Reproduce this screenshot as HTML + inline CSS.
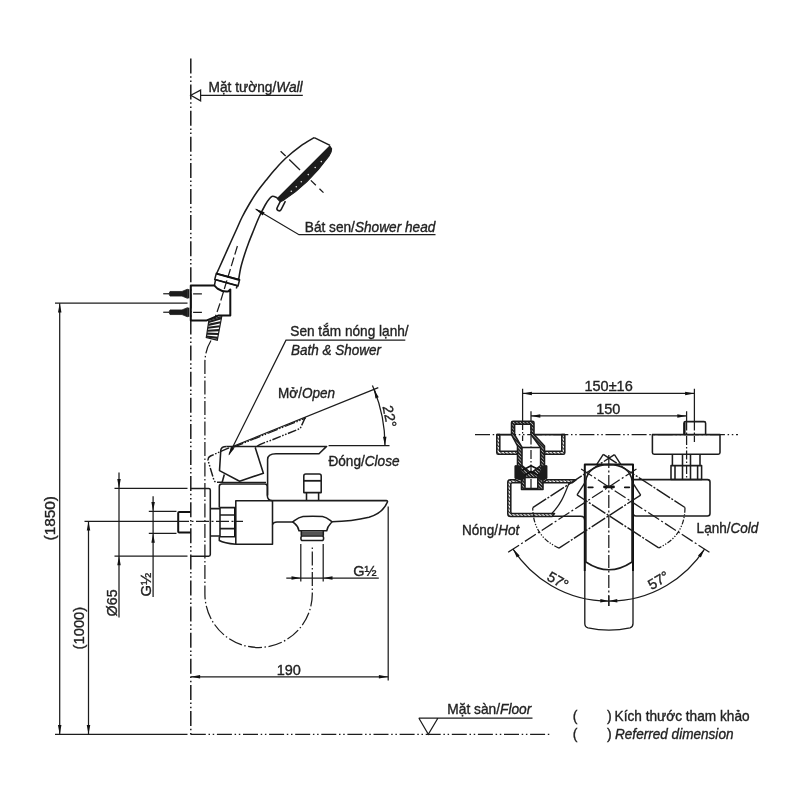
<!DOCTYPE html>
<html lang="vi">
<head>
<meta charset="utf-8">
<title>Sen tắm nóng lạnh / Bath &amp; Shower</title>
<style>
html,body{margin:0;padding:0;background:#fff}
body{width:800px;height:800px;overflow:hidden}
svg{display:block;filter:grayscale(1)}
text{font-family:"Liberation Sans",sans-serif;font-size:14.1px;fill:#222;stroke:#222;stroke-width:.35px}
.i{font-style:italic}
.d{font-size:14.5px}
.n{fill:none;stroke:#1c1c1c;stroke-width:1.25}
.k{fill:none;stroke:#1c1c1c;stroke-width:1.55;stroke-linejoin:round}
.kk{fill:none;stroke:#111;stroke-width:2;stroke-linejoin:round}
.ph{stroke-dasharray:15 2.7 1.5 2.7 1.5 2.7}
.ah{fill:#111;stroke:none}
</style>
</head>
<body>
<svg width="800" height="800" viewBox="0 0 800 800">
<defs>
<clipPath id="oc"><path clip-rule="evenodd" d="M0,0 H800 V800 H0 Z M584.8,464.6 H633 V571 H584.8 Z"/></clipPath>
<pattern id="h" width="2.6" height="2.6" patternUnits="userSpaceOnUse" patternTransform="rotate(-45)"><rect width="2.6" height="2.6" fill="#fff"/><rect width="1.1" height="2.6" fill="#333"/></pattern>
<pattern id="h2" width="2.4" height="2.4" patternUnits="userSpaceOnUse" patternTransform="rotate(-45)"><rect width="2.4" height="2.4" fill="#bbb"/><rect width="1.6" height="2.4" fill="#222"/></pattern>
</defs>
<rect width="800" height="800" fill="#fff"/>
<path class="n ph" style="stroke-width:1.5" d="M190.8,58.5 V734.4"/>
<path class="n ph" d="M190.8,734.4 H550"/>
<path class="n" d="M55,734.4 H187.5"/>
<path class="n" d="M190.8,95.3 L200.6,90.1 V100.9 Z M200.6,95.3 H302.8" fill="none"/>
<text x="208.6" y="91.6" textLength="94" lengthAdjust="spacingAndGlyphs">Mặt tường/<tspan class="i">Wall</tspan></text>
<path class="k" d="M314.25,137.60 C311.96,139.02 305.31,142.62 300.50,146.10 C295.69,149.58 289.73,154.52 285.40,158.50 C281.07,162.48 277.69,166.42 274.50,170.00 C271.31,173.58 269.23,176.25 266.25,180.00 C263.27,183.75 259.52,188.33 256.60,192.50 C253.68,196.67 251.20,200.83 248.75,205.00 C246.30,209.17 243.98,213.33 241.90,217.50 C239.82,221.67 238.13,225.83 236.25,230.00 C234.37,234.17 232.47,238.33 230.60,242.50 C228.72,246.67 226.87,250.83 225.00,255.00 C223.13,259.17 220.80,264.40 219.40,267.50 C218.00,270.60 217.07,272.58 216.60,273.60"/>
<path class="k" d="M277.50,198.00 C276.68,197.70 273.92,196.10 272.60,196.20 C271.28,196.30 270.83,197.13 269.60,198.60 C268.37,200.07 266.98,201.85 265.20,205.00 C263.42,208.15 260.81,213.33 258.90,217.50 C256.99,221.67 255.44,225.83 253.75,230.00 C252.06,234.17 250.31,238.33 248.75,242.50 C247.19,246.67 245.72,250.83 244.40,255.00 C243.08,259.17 241.77,263.38 240.80,267.50 C239.83,271.62 238.97,277.71 238.60,279.75"/>
<path class="k" d="M314.25,137.6 L330.05,145.4"/>
<path d="M329.8,146.2 L331.6,148.8 Q331.8,152 329,156 Q308,185 283,200.5 L280.3,201.8 L277.3,198.6 Z" fill="#1c1c1c" stroke="#1c1c1c" stroke-width="1.2" stroke-linejoin="round"/>
<circle cx="321.3" cy="161.6" r="0.8" fill="#e8e8e8"/>
<circle cx="315.2" cy="167.5" r="0.8" fill="#e8e8e8"/>
<circle cx="308.3" cy="174.6" r="0.8" fill="#e8e8e8"/>
<circle cx="301.3" cy="181.8" r="0.8" fill="#e8e8e8"/>
<circle cx="296.3" cy="186.8" r="0.8" fill="#e8e8e8"/>
<circle cx="291.3" cy="191.2" r="0.8" fill="#e8e8e8"/>
<path class="k" d="M280.2,201.6 L277.2,207.6 A2.1,2.1 0 0 0 281.1,209.6 L285.4,201.2"/>
<path class="n" style="stroke-width:1.3" stroke-dasharray="7 5 15 5 5 5 7 5" d="M280.6,151.2 L323.5,192.6"/>
<path class="n" stroke-dasharray="9 3" d="M237.4,246 L219.6,304.5 L215,318"/>
<path class="k" d="M216.3,273.4 L239.6,279.8 L238.0,286 L214.7,279.6 Z"/>
<path class="kk" d="M216.3,273.6 L239.6,280"/>
<path class="kk" style="stroke-width:1.5" d="M214.9,279.4 L238.1,285.8"/>
<path class="k" d="M215.6,279.4 L214.4,285.6 M237.4,285.3 L236.3,288.5"/>
<path class="kk" d="M190.8,285.6 H214.4 L217.5,288.6 Q223,292.3 228.5,291.3 L230.3,289.5 V315.6 H218.1 L206.25,320.6 H190.8 Z"/>
<path class="n" d="M193.1,293.75 H201.9 M193.1,312.25 H201.9"/>
<path d="M163.3,293.75 H169 L170,291.45 H182 L187.5,289.15 V298.35 L182,296.05 H170 L169,293.75 Z" fill="#1c1c1c" stroke="#1c1c1c" stroke-width="0.8"/>
<path class="k" d="M188.6,289.15 V298.35"/>
<path d="M163.3,312.25 H169 L170,309.95 H182 L187.5,307.65 V316.85 L182,314.55 H170 L169,312.25 Z" fill="#1c1c1c" stroke="#1c1c1c" stroke-width="0.8"/>
<path class="k" d="M188.6,307.65 V316.85"/>
<path class="n" d="M55,303.2 H187.5"/>
<path class="n" d="M59.7,303.2 V734.4"/>
<polygon class="ah" points="59.70,303.20 61.45,312.50 57.95,312.50"/>
<polygon class="ah" points="59.70,734.40 57.95,725.10 61.45,725.10"/>
<text transform="translate(54.5,540.5) rotate(-90)" class="d" textLength="44.5" lengthAdjust="spacingAndGlyphs">(1850)</text>
<path class="n" d="M84.5,521.3 H176"/>
<path class="n" d="M88.5,521.3 V734.4"/>
<polygon class="ah" points="88.50,521.30 90.25,530.60 86.75,530.60"/>
<polygon class="ah" points="88.50,734.40 86.75,725.10 90.25,725.10"/>
<text transform="translate(83.7,649.4) rotate(-90)" class="d" textLength="42.6" lengthAdjust="spacingAndGlyphs">(1000)</text>
<path class="n" d="M114.5,488.4 H187.5 M114.5,556 H187.5 M119,472.5 V617.5"/>
<polygon class="ah" points="119.00,488.40 117.25,479.10 120.75,479.10"/>
<polygon class="ah" points="119.00,556.00 120.75,565.30 117.25,565.30"/>
<text transform="translate(116.6,616.4) rotate(-90)" class="d" textLength="27" lengthAdjust="spacingAndGlyphs">Ø65</text>
<path class="n" d="M148.8,511.3 H176.5 M148.8,533.4 H176.5 M153.1,496.3 V597"/>
<polygon class="ah" points="153.10,511.30 151.35,502.00 154.85,502.00"/>
<polygon class="ah" points="153.10,533.40 154.85,542.70 151.35,542.70"/>
<text transform="translate(151,596.4) rotate(-90)" class="d" textLength="23.8" lengthAdjust="spacingAndGlyphs">G½</text>
<polygon points="208.9,320.2 221.7,316.6 217.3,340.2 206.3,337.6" fill="#fff" stroke="#1c1c1c" stroke-width="1.2"/>
<path d="M208.7,322.0 L221.3,318.3" stroke="#1c1c1c" stroke-width="2.1"/>
<path d="M208.3,324.9 L220.6,322.2" stroke="#1c1c1c" stroke-width="2.1"/>
<path d="M207.8,327.8 L219.8,326.2" stroke="#1c1c1c" stroke-width="2.1"/>
<path d="M207.4,330.7 L219.1,330.1" stroke="#1c1c1c" stroke-width="2.1"/>
<path d="M207.0,333.6 L218.4,334.0" stroke="#1c1c1c" stroke-width="2.1"/>
<path d="M206.5,336.5 L217.7,337.9" stroke="#1c1c1c" stroke-width="2.1"/>
<path class="n" stroke-dasharray="14 2.5 1.5 2.5" d="M211,340.5 Q205.2,350 204.9,362 V593.8 A53.7,53.7 0 0 0 312.3,593.8 V545"/>
<path class="k" d="M190.8,488.4 H208.6 Q210.3,488.4 210.3,490.1 V554.6 Q210.3,556.3 208.6,556.3 H190.8"/>
<path class="kk" d="M190.8,511.9 H179.3 Q178.2,511.9 178.2,513 V531.4 Q178.2,532.5 179.3,532.5 H190.8"/>
<path class="n" stroke-dasharray="13 2.5 2 2.5" d="M176,521.3 H243"/>
<path class="k" d="M210.3,508.6 H220 M210.3,536 H220"/>
<path class="k" d="M220,507.6 H235 V536.8 H220 Z M220,515 H235 M220,528.6 H235"/>
<path class="kk" d="M235,507.6 V536.8"/>
<path class="k" d="M219.3,507.6 V486.5 Q219.3,484 221.8,484 H264.8 Q267.3,484 267.3,486.5 V495.5 Q267.5,500.6 272.5,500.6"/>
<path class="k" d="M219.3,536.8 V540.5 Q224,543 235.8,544.3"/>
<path class="k" d="M235.8,544.3 V500.7 H272.5 V544.3 Z"/>
<path class="k" d="M226.5,446.4 Q221.2,446.4 220.8,450 L219.5,470.6 L239.6,481.2 L263.4,473.2 L255.2,447.5"/>
<path class="k" d="M224.3,474.5 L222.2,482.3"/>
<path class="k" d="M226.5,446.4 H326.6 L319,453.7 H276 Q267.6,453.7 267.6,459.5 V495.5"/>
<path class="n" d="M232,446.8 L378.3,387.6"/>
<path class="n" style="stroke-width:1.3" stroke-dasharray="11 1.6 1.4 1.6 1.4 1.6" d="M233,447.4 L305.6,418.1"/>
<path class="n" style="stroke-width:1.45" stroke-dasharray="9 1.5 1.6 1.5 1.6 1.5" d="M305.4,417.2 L300.2,428.5 L269.5,440.9 Q258,444.5 255.5,447.6 M229,447.8 L210.5,456 Q207.3,457.8 208.2,461 L213.8,479.8 Q214.6,482.3 217.5,482.3 H223"/>
<path class="n" d="M222.5,482.3 H266"/>
<path class="n" d="M328.6,445.7 H389.5"/>
<path class="n" d="M374.1,389.4 A150,150 0 0 1 385,445.7"/>
<path class="n" d="M372.4,385.5 L375.6,393"/>
<polygon class="ah" points="374.10,389.40 378.75,397.30 375.45,398.47"/>
<polygon class="ah" points="385.00,445.70 382.98,436.76 386.48,436.65"/>
<text transform="translate(382.6,406.6) rotate(79)" class="d">22°</text>
<path class="n" d="M405.3,340.1 H286 L229,454.5"/>
<polygon class="ah" points="228.60,455.60 230.92,446.70 234.32,448.39"/>
<text x="290.3" y="335.6" textLength="118.3" lengthAdjust="spacingAndGlyphs">Sen tắm nóng lạnh/</text>
<text x="291" y="354.5" class="i" textLength="90" lengthAdjust="spacingAndGlyphs">Bath &amp; Shower</text>
<text x="278" y="397.8" textLength="57" lengthAdjust="spacingAndGlyphs">Mở/<tspan class="i">Open</tspan></text>
<text x="328.4" y="466.3" textLength="71.2" lengthAdjust="spacingAndGlyphs">Đóng/<tspan class="i">Close</tspan></text>
<path class="n" d="M435.5,234.7 H299 L256,209.3"/>
<polygon class="ah" points="254.60,208.50 264.61,212.19 262.68,215.47"/>
<text x="304.8" y="232" textLength="130.6" lengthAdjust="spacingAndGlyphs">Bát sen/<tspan class="i">Shower head</tspan></text>
<path class="k" d="M272.5,500.6 H386.3 Q388,500.6 387.3,502.3 Q383,513 369,517.2 Q352,521.3 331.7,521.7"/>
<path class="k" d="M272.5,524.5 Q273.5,522 277,522 H293.2"/>
<path class="k" d="M292.8,521.9 C296,519.5 298,517.2 303,516.5 Q312.5,515.8 322.5,516.5 C327,517.2 329,519.5 332,521.9 C330,524.5 327.5,525.5 326.7,530.8 H299 C298.3,525.5 295.5,524.5 292.8,521.9 Z"/>
<rect x="301.3" y="531.2" width="22" height="4.4" fill="#555"/>
<path class="k" d="M301.3,531 V535.8 M323.3,531 V535.8 M302.5,536 H322 Q323.6,536 323.6,538.2 Q323.6,540.5 322,540.5 H302.5 Q300.9,540.5 300.9,538.2 Q300.9,536 302.5,536 Z"/>
<path class="n" d="M300.8,544 V581.5 M323.2,544 V581.5"/>
<path class="n" d="M286.3,578 H378.8"/>
<polygon class="ah" points="300.80,578.00 291.50,579.75 291.50,576.25"/>
<polygon class="ah" points="323.20,578.00 332.50,576.25 332.50,579.75"/>
<text x="353.3" y="575.8" class="d">G½</text>
<path class="k" d="M305.8,474 H319.2 Q321.2,474 321.2,476 V492.6 H303.8 V476 Q303.8,474 305.8,474 Z M306.5,492.6 V500.6 M318.6,492.6 V500.6"/>
<path d="M303.8,480.8 H321.3" stroke="#1c1c1c" stroke-width="1.8"/>
<path class="n" d="M388.2,506.5 V680.5"/>
<path class="n" d="M190.8,676.8 H388.2"/>
<polygon class="ah" points="190.80,676.80 200.10,675.05 200.10,678.55"/>
<polygon class="ah" points="388.20,676.80 378.90,678.55 378.90,675.05"/>
<text x="288.8" y="675.2" text-anchor="middle" class="d">190</text>
<path class="n" d="M418.8,718 H532.5 M418.8,718 L428.3,734.2 L438,718"/>
<text x="447.3" y="714.3" textLength="84" lengthAdjust="spacingAndGlyphs">Mặt sàn/<tspan class="i">Floor</tspan></text>
<text x="572.8" y="720.8">(</text><text x="607" y="720.8">)</text>
<text x="614.6" y="720.8" textLength="135" lengthAdjust="spacingAndGlyphs">Kích thước tham khảo</text>
<text x="572.8" y="739.2">(</text><text x="607" y="739.2">)</text>
<text x="615" y="739.2" class="i" textLength="118.5" lengthAdjust="spacingAndGlyphs">Referred dimension</text>
<path class="n" d="M522.6,388.8 V421 M694.4,388.8 V421.5 M522.6,393.4 H694.4"/>
<polygon class="ah" points="522.60,393.40 531.90,391.65 531.90,395.15"/>
<polygon class="ah" points="694.40,393.40 685.10,395.15 685.10,391.65"/>
<text x="608.6" y="391.4" text-anchor="middle" class="d">150±16</text>
<path class="n" d="M531,411.2 V421 M686.6,411.2 V421.5 M531,415.9 H686.6"/>
<polygon class="ah" points="531.00,415.90 540.30,414.15 540.30,417.65"/>
<polygon class="ah" points="686.60,415.90 677.30,417.65 677.30,414.15"/>
<text x="608.3" y="414.3" text-anchor="middle" class="d">150</text>
<path class="n" stroke-dasharray="15 2.7 1.5 2.7 1.5 2.7" d="M475,434.6 H738"/>
<path class="n" stroke-dasharray="9 2 1.5 2" d="M522.6,421 V441 M531,421 V490 M694.4,421.5 V442 M686.6,421.5 V479"/>
<path class="k" style="fill:url(#h2);fill-rule:evenodd" d="M511.5,434.6 V422.8 Q511.5,421.3 513,421.3 H532.5 Q534,421.3 534,422.8 V434.6 L544.5,446 V466 H546.6 V478 L543,480 V489.5 H521.5 V480 L515.3,478 V466 H517.5 V446 Z  M514.6,434.6 V424.3 H531 V434.6 L540.6,447.5 V465.5 L531,473 L522,465.5 V447.5 Z M525,477.5 H537.8 V488.6 H525 Z"/>
<path class="k" d="M522,447.5 H540.6"/>
<path d="M515.3,466 H521 V471 L525,474.5 V477.5 L522,480 L515.3,478 Z M546.6,466 H541.5 V471 L537.8,474.5 V477.5 L540.5,480 L546.6,478 Z" fill="#1c1c1c" stroke="#1c1c1c" stroke-width="1"/>
<path class="kk" style="stroke-width:1.6" d="M522,470.5 L531,465.8 L540.6,470.5 M524.5,475.5 L531,471.5 L538.3,475.5"/>
<path class="k" style="fill:url(#h);fill-rule:evenodd" d="M496.8,434.6 H499.8 V451.3 H517.5 V454.3 H498.3 Q496.8,454.3 496.8,452.8 Z M561.8,434.6 H564.8 V452.8 Q564.8,454.3 563.3,454.3 H544.5 V451.3 H561.8 Z"/>
<path class="k" d="M496.8,434.6 H511.5 M534,434.6 H564.8"/>
<path class="k" style="fill:url(#h);fill-rule:evenodd" d="M515.3,479.8 H510.5 Q507.8,479.8 507.8,482.5 V513.8 Q507.8,516.5 510.5,516.5 H552 L554.5,513.5 H512.3 Q510.8,513.5 510.8,512 V484.3 Q510.8,482.8 512.3,482.8 H521.5 Z M546.6,479.8 H576 L572,482.8 H543 Z"/>
<path class="k" d="M552,516.3 H580.5 Q584.8,516.3 584.8,520.5"/>
<path class="n" d="M569,483.2 C565,493 562,503 552,513.3"/>
<path class="k" d="M684,434.6 V423.2 Q684,421.6 685.6,421.6 H704 Q705.6,421.6 705.6,423.2 V434.6"/>
<path class="kk" d="M684.6,434.6 V422.5"/>
<path class="k" d="M652.4,434.6 H720 V452.5 Q720,454.2 718.3,454.2 H654.1 Q652.4,454.2 652.4,452.5 Z"/>
<path class="k" d="M672.4,454.2 V465.6 M700,454.2 V465.6 M671,465.6 H701.6 V479.4 H671 Z M675,465.6 V479.4 M697.6,465.6 V479.4 M682.5,454.2 V479.4 M690.5,454.2 V479.4"/>
<path class="k" d="M633,479.6 H707.5 Q710,479.6 710,482.1 V513.5 Q710,516 707.5,516 H636 Q633,516 633,512.5"/>
<path class="kk" d="M584.8,571 V464.6 H633 V571"/>
<path class="k" d="M585.9,562 V481 C587,470.5 596,464.8 608.9,464.6 C622,464.8 631,470.5 632,481 V562 Q609,577.5 585.9,562 Z"/>
<path class="k" style="stroke-width:1.35" d="M584.8,571 V623.5 Q584.8,627 588,627.8 Q609,632.5 630,627.8 Q633,627 633,623.5 V571"/>
<path class="n" stroke-dasharray="13 2.5 2 2.5" d="M608.8,455 V606"/>
<path d="M604.5,486.9 H613.5" stroke="#111" stroke-width="2.8" stroke-linecap="round"/>
<path d="M588.3,487.29999999999995 H592.8 M624.8,487.29999999999995 H629.3" stroke="#111" stroke-width="1.8" stroke-linecap="round"/>
<g transform="rotate(57 608.8 486.9)"><path class="n" style="stroke-width:1.4" stroke-dasharray="16 1.6 2 1.6" d="M584.8,562 V464.6 M633,464.6 V562"/><path class="n" stroke-dasharray="5 1.5 1.3 1.5 1.3 1.5" d="M633,562 Q609,577.5 584.8,562"/><path class="n" stroke-dasharray="13 2.5 2 2.5" d="M608.8,453.9 V608.9"/></g>
<g clip-path="url(#oc)"><path transform="rotate(57 608.8 486.9)" class="n" style="stroke-width:1.4" d="M584.8,464.6 H633"/></g>
<g transform="rotate(-57 608.8 486.9)"><path class="n" style="stroke-width:1.4" stroke-dasharray="16 1.6 2 1.6" d="M584.8,562 V464.6 M633,464.6 V562"/><path class="n" stroke-dasharray="5 1.5 1.3 1.5 1.3 1.5" d="M633,562 Q609,577.5 584.8,562"/><path class="n" stroke-dasharray="13 2.5 2 2.5" d="M608.8,453.9 V608.9"/></g>
<g clip-path="url(#oc)"><path transform="rotate(-57 608.8 486.9)" class="n" style="stroke-width:1.4" d="M584.8,464.6 H633"/></g>
<path class="n" d="M513.02,549.10 A114.2,114.2 0 0 0 704.58,549.10"/>
<polygon class="ah" points="513.02,549.10 519.62,555.47 516.75,557.47"/>
<polygon class="ah" points="704.58,549.10 700.85,557.47 697.98,555.47"/>
<polygon class="ah" points="608.80,601.10 600.24,602.55 600.37,599.05"/>
<polygon class="ah" points="608.80,601.10 617.23,599.05 617.36,602.55"/>
<path class="n" d="M608.8,596.1 V606.1"/>
<text transform="translate(557.8,580.8) rotate(30)" text-anchor="middle" class="d" dy="4.8">57°</text>
<text transform="translate(658.5,580.5) rotate(-30)" text-anchor="middle" class="d" dy="4.8">57°</text>
<text x="462" y="534.5" textLength="57.2" lengthAdjust="spacingAndGlyphs">Nóng/<tspan class="i">Hot</tspan></text>
<text x="696.6" y="533.2" textLength="61.8" lengthAdjust="spacingAndGlyphs">Lạnh/<tspan class="i">Cold</tspan></text>
</svg>
</body>
</html>
